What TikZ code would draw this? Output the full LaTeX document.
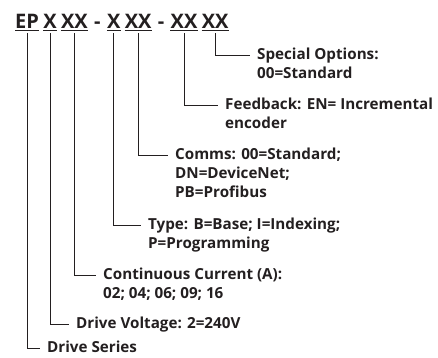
\documentclass[tikz,border=0pt]{standalone}
\usepackage{fontspec}
\setmainfont{Open Sans}
\usepackage{tikz}
\usetikzlibrary{positioning}
\definecolor{inkc}{RGB}{35,31,32}
\tikzset{
  code/.style={inner xsep=0pt,inner ysep=1.8pt,font=\fontsize{20}{22}\selectfont\bfseries,text=inkc,text height=14.5pt,text depth=0pt},
  sep/.style={code},
  desc/.style={inner sep=0pt,anchor=north west,align=left,font=\fontsize{15.2}{19}\selectfont\bfseries,text=inkc},
  uline/.style={line width=1pt,inkc},
  lead/.style={line width=0.8pt,inkc},
}
\begin{document}
\begin{tikzpicture}[x=1pt,y=-1pt]
  \useasboundingbox (0,0) rectangle (438,357);
  % part number, one node per field
  \node[code,anchor=base west] (ep) at (15,28) {EP};
  \node[code,right=4pt of ep] (vt) {X};
  \node[code,right=4pt of vt] (cc) {XX};
  \node[sep,right=6pt of cc] (d1) {-};
  \node[code,right=6pt of d1] (ty) {X};
  \node[code,right=4pt of ty] (cm) {XX};
  \node[sep,right=6pt of cm] (d2) {-};
  \node[code,right=6pt of d2] (fb) {XX};
  \node[code,right=4pt of fb] (so) {XX};
  \foreach \n in {ep,vt,cc,ty,cm,fb,so}
    \draw[uline] (\n.south west) -- (\n.south east);
  % field descriptions
  \node[desc] (sol) at (257,48) {Special Options:\\00=Standard};
  \node[desc] (fbl) at (225,98) {Feedback: EN= Incremental\\encoder};
  \node[desc] (cml) at (175,148) {Comms: 00=Standard;\\DN=DeviceNet;\\PB=Profibus};
  \node[desc] (tyl) at (148,218) {Type: B=Base; I=Indexing;\\P=Programming};
  \node[desc] (ccl) at (103,268) {Continuous Current (A):\\02; 04; 06; 09; 16};
  \node[desc] (vtl) at (76,317) {Drive Voltage: 2=240V};
  \node[desc] (epl) at (47,341) {Drive Series};
  % leaders
  \foreach \a/\b in {so/sol,fb/fbl,cm/cml,ty/tyl,cc/ccl,vt/vtl,ep/epl}
    \draw[lead] ([yshift=-3pt]\a.south) |- ([xshift=-7pt,yshift=-7pt]\b.north west);
\end{tikzpicture}
\end{document}
